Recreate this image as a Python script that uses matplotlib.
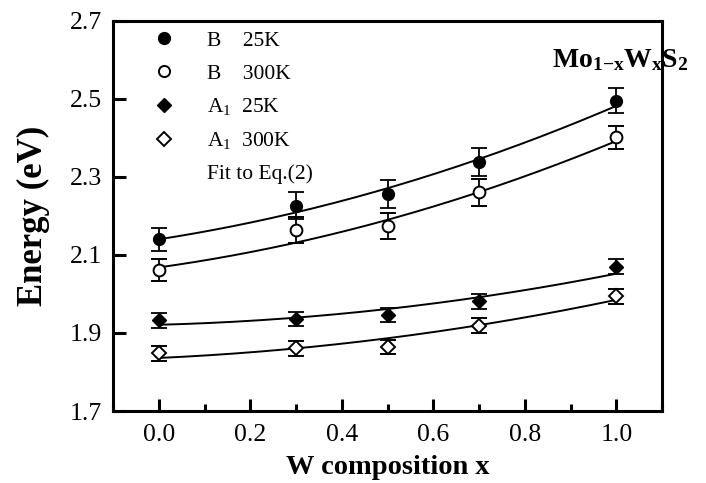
import numpy as np
import matplotlib
matplotlib.use("Agg")
import matplotlib.pyplot as plt
from matplotlib.lines import Line2D
from matplotlib.ticker import MultipleLocator, FixedLocator

plt.rcParams['font.family'] = ['Liberation Serif', 'DejaVu Serif']
plt.rcParams['mathtext.fontset'] = 'custom'
plt.rcParams['mathtext.rm'] = 'Liberation Serif'
plt.rcParams['mathtext.it'] = 'Liberation Serif:italic'
plt.rcParams['mathtext.bf'] = 'Liberation Serif:bold'

# ---- data ----
x_comp = [0.0, 0.3, 0.5, 0.7, 1.0]

b_25k = [2.140, 2.226, 2.256, 2.337, 2.495]
b_25k_err = [0.030, 0.034, 0.035, 0.036, 0.032]
b_300k = [2.061, 2.164, 2.174, 2.260, 2.401]
b_300k_err = [0.028, 0.034, 0.034, 0.034, 0.030]
a1_25k = [1.932, 1.936, 1.946, 1.981, 2.070]
a1_25k_err = [0.019, 0.019, 0.019, 0.019, 0.019]
a1_300k = [1.848, 1.861, 1.864, 1.919, 1.994]
a1_300k_err = [0.019, 0.019, 0.019, 0.019, 0.019]

# Eq.(2) fit parameters: E(x) = E0(1-x) + E1 x - b x(1-x)
fit_b_25k = (2.140, 2.482, 0.16)
fit_b_300k = (2.068, 2.392, 0.16)
fit_a1_25k = (1.921, 2.052, 0.10)
fit_a1_300k = (1.836, 1.985, 0.096)

y_ticks = [1.7, 1.9, 2.1, 2.3, 2.5, 2.7]
legend_labels = ['B    25K', 'B    300K', r'A$_1$  25K', r'A$_1$  300K', 'Fit to Eq.(2)']

fig = plt.figure(figsize=(7.06, 4.83), dpi=100)
ax = fig.add_axes([0.160, 0.149, 0.778, 0.808])

xf = np.linspace(0.0, 1.0, 200)
def eq2(p, x):
    e0, e1, bow = p
    return e0 * (1 - x) + e1 * x - bow * x * (1 - x)

for p in (fit_b_25k, fit_b_300k, fit_a1_25k, fit_a1_300k):
    ax.plot(xf, eq2(p, xf), color='black', lw=1.4, zorder=2)

common = dict(ls='none', ecolor='black', elinewidth=1.3, capsize=6, capthick=1.3, zorder=3)
ax.errorbar(x_comp, b_25k, yerr=b_25k_err, marker='o', ms=8.5, mfc='black', mec='black', **common)
ax.errorbar(x_comp, b_300k, yerr=b_300k_err, marker='o', ms=8.5, mfc='white', mec='black', mew=1.4, **common)
ax.errorbar(x_comp, a1_25k, yerr=a1_25k_err, marker='D', ms=7.5, mfc='black', mec='black', **common)
ax.errorbar(x_comp, a1_300k, yerr=a1_300k_err, marker='D', ms=7.5, mfc='white', mec='black', mew=1.4, **common)

ax.set_xlim(-0.1, 1.1)
ax.set_ylim(1.7, 2.7)
ax.xaxis.set_major_locator(MultipleLocator(0.2))
ax.xaxis.set_minor_locator(MultipleLocator(0.1))
ax.yaxis.set_major_locator(FixedLocator(y_ticks))
ax.set_yticklabels([f'{v:.1f}' for v in y_ticks])
ax.tick_params(axis='both', which='major', direction='in', length=9, width=2.2, labelsize=18.5)
ax.tick_params(axis='x', which='major', pad=9)
ax.tick_params(axis='x', which='minor', direction='in', length=5, width=2.2)
ax.tick_params(axis='y', which='major', pad=8)
for s in ax.spines.values():
    s.set_linewidth(2.2)

ax.set_xlabel('W composition x', fontsize=20.5, fontweight='bold', labelpad=7)
ax.set_ylabel('Energy (eV)', fontsize=25, fontweight='bold', labelpad=14)

fig.text(0.975, 0.875, r'$\mathbf{Mo_{1{-}x}W_{x}S_{2}}$',
         ha='right', va='center', fontsize=20)

handles = [
    Line2D([], [], ls='none', marker='o', ms=8.5, mfc='black', mec='black'),
    Line2D([], [], ls='none', marker='o', ms=8, mfc='white', mec='black', mew=1.4),
    Line2D([], [], ls='none', marker='D', ms=7, mfc='black', mec='black'),
    Line2D([], [], ls='none', marker='D', ms=7, mfc='white', mec='black', mew=1.4),
    Line2D([], [], ls='none'),
]
ax.legend(handles, legend_labels, loc='upper left', bbox_to_anchor=(0.073, 0.975),
          frameon=False, fontsize=15.5, handlelength=1.0, handletextpad=1.5,
          labelspacing=0.6, borderpad=0, borderaxespad=0)

fig.savefig('out.png', dpi=100)
